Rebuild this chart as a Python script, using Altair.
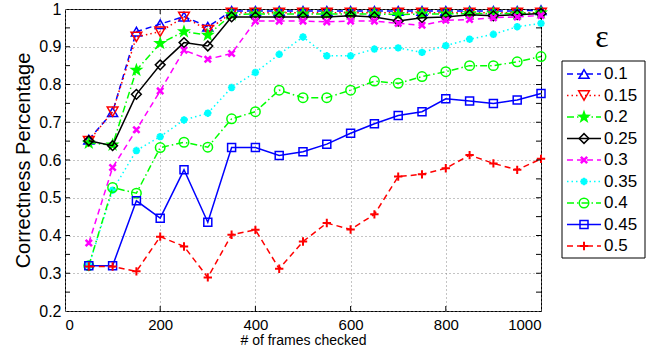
import altair as alt
import pandas as pd

frames = [50, 100, 150, 200, 250, 300, 350, 400, 450, 500,
          550, 600, 650, 700, 750, 800, 850, 900, 950, 1000]
eps_labels = ["0.1", "0.15", "0.2", "0.25", "0.3", "0.35", "0.4", "0.45", "0.5"]

e01 = [0.654, 0.727, 0.94, 0.96, 0.98, 0.953, 0.995, 0.995, 0.995, 0.995,
       0.995, 0.995, 0.995, 0.995, 0.995, 0.995, 0.995, 0.995, 0.995, 0.997]
e015 = [0.65, 0.728, 0.926, 0.94, 0.979, 0.944, 0.99, 0.99, 0.99, 0.99,
        0.99, 0.99, 0.99, 0.99, 0.99, 0.99, 0.99, 0.99, 0.99, 0.99]
e02 = [0.645, 0.64, 0.838, 0.909, 0.94, 0.931, 0.985, 0.987, 0.987, 0.987,
       0.987, 0.987, 0.987, 0.985, 0.987, 0.987, 0.988, 0.988, 0.988, 0.99]
e025 = [0.651, 0.638, 0.774, 0.852, 0.911, 0.902, 0.979, 0.979, 0.979, 0.979,
        0.979, 0.982, 0.979, 0.968, 0.977, 0.979, 0.985, 0.982, 0.985, 0.988]
e03 = [0.38, 0.58, 0.68, 0.783, 0.891, 0.867, 0.882, 0.968, 0.968, 0.968,
       0.966, 0.968, 0.968, 0.962, 0.957, 0.97, 0.972, 0.977, 0.979, 0.983]
e035 = [0.32, 0.52, 0.625, 0.662, 0.706, 0.724, 0.792, 0.832, 0.88, 0.926,
        0.876, 0.876, 0.894, 0.897, 0.885, 0.903, 0.92, 0.933, 0.953, 0.962]
e04 = [0.32, 0.527, 0.512, 0.633, 0.647, 0.634, 0.709, 0.728, 0.785, 0.765,
       0.765, 0.785, 0.809, 0.803, 0.821, 0.834, 0.85, 0.85, 0.86, 0.874]
e045 = [0.32, 0.32, 0.492, 0.446, 0.574, 0.435, 0.633, 0.633, 0.612, 0.622,
        0.642, 0.671, 0.696, 0.718, 0.728, 0.762, 0.756, 0.75, 0.759, 0.776]
e05 = [0.318, 0.318, 0.305, 0.397, 0.371, 0.289, 0.402, 0.415, 0.312, 0.384,
       0.433, 0.416, 0.456, 0.556, 0.562, 0.578, 0.613, 0.591, 0.574, 0.603]

all_series = [e01, e015, e02, e025, e03, e035, e04, e045, e05]

y_ticks = [0.2, 0.3, 0.4, 0.5, 0.6, 0.7, 0.8, 0.9, 1.0]
y_minor = [0.25, 0.35, 0.45, 0.55, 0.65, 0.75, 0.85, 0.95]
x_ticks = [0, 200, 400, 600, 800, 1000]

STAR = ("M0,-1L0.235,-0.324L0.951,-0.309L0.38,0.124L0.588,0.809L0,0.4"
        "L-0.588,0.809L-0.38,0.124L-0.951,-0.309L-0.235,-0.324Z")
colors = ["#0000ff", "#ff0000", "#00ff00", "#000000", "#ff00ff",
          "#00ffff", "#00ff00", "#0000ff", "#ff0000"]
dashes = [[6, 4], [1.5, 3], [7, 3, 1.5, 3], None, [6, 4],
          [1.5, 3], [7, 3, 1.5, 3], None, [6, 4]]
shapes = ["triangle-up", "triangle-down", STAR, "diamond",
          "M-1,-1L1,1M-1,1L1,-1",
          "M-1,0L1,0M0,-1L0,1M-0.7,-0.7L0.7,0.7M-0.7,0.7L0.7,-0.7",
          "circle", "square", "M-1,0L1,0M0,-1L0,1"]
filled = [False, False, True, False, False, False, False, False, False]
sizes = [100, 115, 220, 95, 40, 55, 90, 64, 70]
swidths = [1.5, 1.5, 1, 1.5, 2.5, 2.2, 1.5, 1.5, 2]

W, H = 476, 302
LW = 92
FONT = "Liberation Sans"

x_scale = alt.Scale(domain=[0, 1000], nice=False)
y_scale = alt.Scale(domain=[0.2, 1.0], nice=False, zero=False)

x_axis = alt.Axis(values=x_ticks, labelExpr="datum.value + ''", title="# of frames checked",
                  ticks=False, domain=False, labelPadding=6, titlePadding=1,
                  labelFontSize=15, titleFontSize=14, grid=True,
                  gridDash=[1, 3], gridColor="#888888", gridOpacity=1)
y_axis = alt.Axis(values=y_ticks, labelExpr="datum.value + ''", title="Correctness Percentage",
                  ticks=False, domain=False, labelPadding=4, titlePadding=5,
                  labelFontSize=16, titleFontSize=20, grid=True,
                  gridDash=[1, 3], gridColor="#888888", gridOpacity=1)


def line_props(i):
    p = dict(color=colors[i], strokeWidth=1.5)
    if dashes[i] is not None:
        p["strokeDash"] = dashes[i]
    return p


def point_props(i):
    return dict(shape=shapes[i], color=colors[i], filled=filled[i], size=sizes[i],
                strokeWidth=swidths[i], opacity=1)


main_layers = []
for i, (lab, vals) in enumerate(zip(eps_labels, all_series)):
    sdf = pd.DataFrame({"frames": frames, "value": vals})
    b = alt.Chart(sdf)
    xe = alt.X("frames:Q", scale=x_scale, axis=x_axis)
    ye = alt.Y("value:Q", scale=y_scale, axis=y_axis)
    main_layers.append(b.mark_line(**line_props(i)).encode(x=xe, y=ye))
    main_layers.append(b.mark_point(**point_props(i)).encode(x=xe, y=ye))

ytick_df = pd.DataFrame({"value": y_ticks[1:-1] + y_minor})
xtick_df = pd.DataFrame({"frames": x_ticks[1:-1]})
main_layers.append(alt.Chart(ytick_df).mark_rule(color="black").encode(
    y=alt.Y("value:Q", scale=y_scale, axis=y_axis), x=alt.value(0), x2=alt.value(5)))
main_layers.append(alt.Chart(ytick_df).mark_rule(color="black").encode(
    y=alt.Y("value:Q", scale=y_scale, axis=y_axis), x=alt.value(W - 5), x2=alt.value(W)))
main_layers.append(alt.Chart(xtick_df).mark_rule(color="black").encode(
    x=alt.X("frames:Q", scale=x_scale, axis=x_axis), y=alt.value(H - 5), y2=alt.value(H)))
main_layers.append(alt.Chart(xtick_df).mark_rule(color="black").encode(
    x=alt.X("frames:Q", scale=x_scale, axis=x_axis), y=alt.value(0), y2=alt.value(5)))

main = alt.layer(*main_layers).properties(width=W, height=H)

one = pd.DataFrame({"k": [0]})
leg_scale = alt.Scale(type="point", domain=eps_labels, range=[65, 237], padding=0)
leg_layers = [
    alt.Chart(one).mark_rect(fill="white", stroke="black", strokeWidth=1).encode(
        x=alt.value(5), x2=alt.value(88), y=alt.value(52), y2=alt.value(249)),
    alt.Chart(one).mark_text(fontSize=32, font="Liberation Serif", color="black").encode(
        x=alt.value(45), y=alt.value(28), text=alt.value("ε")),
]
for i, lab in enumerate(eps_labels):
    ldf = pd.DataFrame({"eps": [lab]})
    ly = alt.Y("eps:N", scale=leg_scale, axis=None)
    leg_layers.append(alt.Chart(ldf).mark_rule(**line_props(i)).encode(
        x=alt.value(10), x2=alt.value(44), y=ly))
    leg_layers.append(alt.Chart(ldf).mark_point(**point_props(i)).encode(
        x=alt.value(27), y=ly))
    leg_layers.append(alt.Chart(ldf).mark_text(align="left", baseline="middle", fontSize=17,
                                               font=FONT, color="black").encode(
        x=alt.value(47), y=ly, text="eps:N"))

legend = alt.layer(*leg_layers).properties(
    width=LW, height=H, view=alt.ViewBackground(stroke="transparent"))

chart = alt.hconcat(main, legend, spacing=16, bounds="flush").properties(
    padding={"left": 13, "top": 0, "right": 0, "bottom": 2}
).configure_axis(
    labelFont=FONT, titleFont=FONT, labelColor="black", titleColor="black", titleFontWeight="normal"
).configure_view(stroke="black", strokeWidth=1)

chart.save("out.html", embed_options={"renderer": "svg", "actions": False})
